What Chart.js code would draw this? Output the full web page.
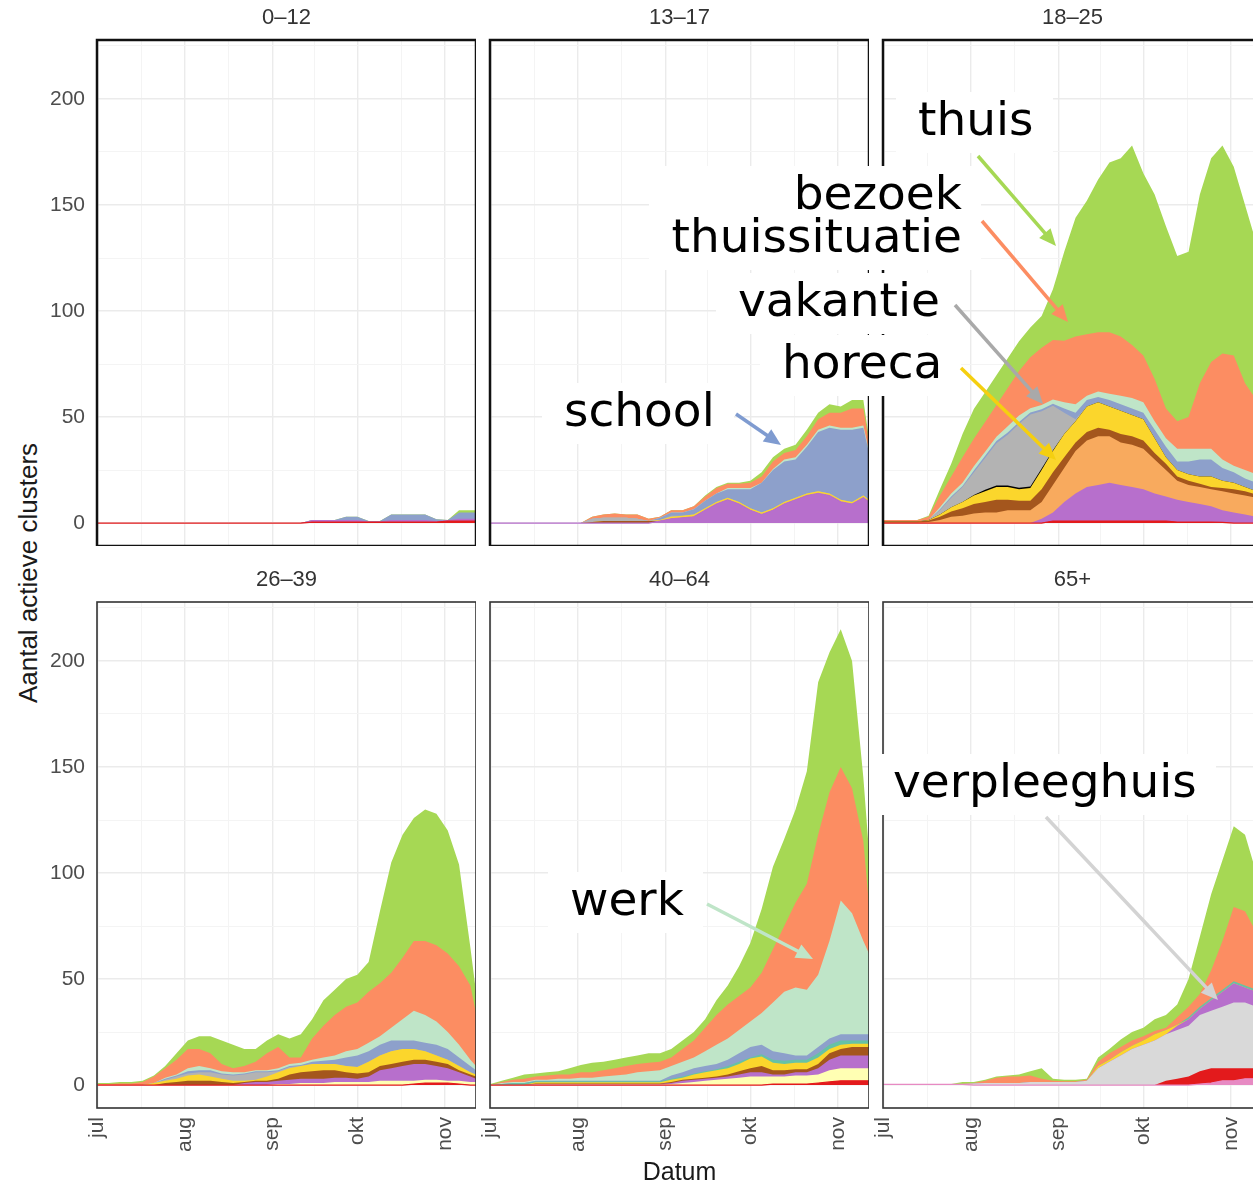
<!DOCTYPE html>
<html>
<head>
<meta charset="utf-8">
<title>Aantal actieve clusters per leeftijdsgroep</title>
<script src="https://cdn.jsdelivr.net/npm/chart.js@4.4.1/dist/chart.umd.min.js"></script>
<style>
  html, body { margin: 0; padding: 0; background: #fff; width: 1253px; height: 1186px; overflow: hidden; }
  .panel { position: absolute; }
  .note {
    position: absolute; background: #fff; color: #000; white-space: nowrap;
    font-family: "DejaVu Sans", Verdana, sans-serif; font-size: 47px; line-height: 43px;
    padding: 5px 19px 13px 22px; z-index: 5;
  }
  #ytitle {
    position: absolute; left: -172px; top: 558px; width: 400px; height: 30px; line-height: 30px;
    text-align: center; transform: rotate(-90deg);
    font-family: "Liberation Sans", Arial, sans-serif; font-size: 26px; color: #1a1a1a;
  }
  #arrows { position: absolute; left: 0; top: 0; z-index: 6; }
</style>
</head>
<body>
<div id="ytitle">Aantal actieve clusters</div>

<div class="note" style="left:896px;top:92px;">thuis</div>
<div class="note" style="right:272px;top:166px;text-align:right;">bezoek<br>thuissituatie</div>
<div class="note" style="left:716px;top:273px;">vakantie</div>
<div class="note" style="left:760px;top:335px;">horeca</div>
<div class="note" style="left:542px;top:383px;">school</div>
<div class="note" style="left:548px;top:872px;">werk</div>
<div class="note" style="left:871px;top:754px;">verpleeghuis</div>

<svg id="arrows" width="1253" height="1186"></svg>

<script>
// days since 1 July, one value per sample
const days = [0,4,8,12,16,20,24,28,32,36,40,44,48,52,56,60,64,68,72,76,80,84,88,92,96,100,104,108,112,116,120,124,128,132,134];

const groups = ['0–12', '13–17', '18–25', '26–39', '40–64', '65+'];

const monthTicks = [0, 31, 62, 92, 123];
const monthLabels = ['jul', 'aug', 'sep', 'okt', 'nov'];
const xGrid = [0, 15.5, 31, 46.5, 62, 77, 92, 107.5, 123];
const yTicks = [0, 25, 50, 75, 100, 125, 150, 175, 200, 225];

// active clusters per setting; one row per age group (same order as groups), null = no clusters
const overig = [null, null, null, null, null,
  [0.3,0.3,0.3,0.3,0.3,0.3,0.3,0.3, 0,0,0,0,0,0,0,0,0,0, 0,0,0,0,0,0,0,0,0,0, 0.5,1,2,2,3,3,3]];

const zorg = [
  [0,0,0,0,0,0,0,0,0,0, 0,0,0,0,0,0,0,0,0, 0.5,0.5,0.5,0.5,0.5,0.5,0.5,0.5,0.5,0.5,0.5,0.5, 1,1,1,1],
  null,
  [0,0,0,0,0,0,0,0,0,0, 0,0,0,0,0, 1,1,1,1,1,1,1,1,1,1,1, 0.5,0.5,0.5,0.5, 0.3, 0,0,0,0],
  [0,0,0,0,0,0,0,0,0,0, 0,0,0,0,0,0,0,0,0,0, 0,0,0,0,0,0,0,0, 0.5,1,1,1,0.5,0,0],
  [0,0,0,0,0,0,0,0,0,0, 0,0,0,0,0,0,0,0,0,0, 0,0,0,0,0, 0.5,0.5,0.5,0.5,1,1.5,2,2,2,2],
  [0,0,0,0,0,0,0,0,0,0, 0,0,0,0,0,0,0,0,0,0, 0,0,0,0,0, 2,3,4,6,7,6,6,5,5,5]];

const verpleeghuis = [null, null, null, null, null,
  [0,0,0,0,0,0,0, 0.2,0.7,1,1,1,1,1.5,1.5,1.5,1.5,1.5,2,8,11,14,17,19,21,22,23,24,26.5,27,29,31,31,29,28]];

const kerk = [null, null, null,
  [0,0,0,0,0,0,0,0,0,0, 0,0,0,0,0,0, 0.5,0.5,1,1,1,1.5,1.5,1.5,1.5,2,2,2,1.5,1.5,1.5,1,1.5,1.5,1.5],
  [0,0,0,0, 0.3,0.3,0.3,0.3,0.3,0.3,0.3,0.3,0.3,0.3,0.3,0.3, 0.5,1,1.5,2,2.5,3,3.5,4,4,3.5,3.5,4,4,4,5.5,6,6,6,6],
  null];

const studie = [
  [0,0,0,0,0,0,0,0,0,0, 0,0,0,0,0,0,0,0,0, 1,1,1,1,1,0.3,0.3,1,1,1,1,0.5,0.3,1,1,1],
  [0,0,0,0,0,0,0,0,0,0, 0,0,0,0,0, 1,2,2.5,3,6,9,11,9,6,4,6,9,11,13,14,13,10,9,12,10],
  [0,0,0,0,0,0,0,0,0,0, 0,0,0,0, 2,4,9,13,16,17,18,17,16,15,13,11.5,10.5,9.5,8.5,7.5,5.7,5,4,3,3],
  [0,0,0,0,0,0,0,0,0,0, 0,0,0, 1,1.5,1.5,1.5,2,2,2,2,2,2,1.5,2.5,5,6,7,8,7.5,6.5,6,4,2.5,1.5],
  [0,0,0,0, 0.2,0.2,0.2,0.2,0.2,0.2,0.2,0.2,0.2,0.2,0.2,0.2, 0.5,1,1,1,1,1,1.5,2,2,1,1,1.5,1.5,3,5,6,6,6,6],
  [0,0,0,0,0,0,0,0,0,0, 0,0,0,0,0,0,0,0,0,0, 0,0,0,0,0,0, 2,3,3,5,7,9,7,7,7]];

const sport = [null, null,
  [0.3,0.3,0.3,0.3,0.5,1.5,3,3.5,4.5,5,5,6,6,6,8,13,16,20,22,23,22,20,20,19,16,12.5,9,8,8,8,9,9,9,9,8],
  null, null, null];

const feest = [null,
  [0,0,0,0,0,0,0,0,0, 0.5,1,1,1,1,1, 0,0,0,0,0,0,0,0,0,0, 0,0,0,0,0,0,0,0,0,0],
  [0.5,0.5,0.5,0.5,0.7,1.5,2.5,3.5,4.5,5,6,5,4.5,4.5,6,6,5,4,4,4,3,4,4,4,3,3,2,2,1.5,1,1.5,2,2,1.5,2],
  [0,0,0,0,0,0, 1,1.5,2,2,2,1.5,1,0.5,0.5,0.5,1,2.5,3,3.5,4,3.5,2.5,2.5,2,2,2,2,2,2,2,2,1,1,1],
  [0,0,0,0, 0.3,0.3,0.3,0.3,0.3,0.3,0.3,0.3,0.3,0.3,0.3,0.3, 0.5,0.5,0.5,0.5,0.5,1,1.5,2,3,2,2,1.5,1.5,2,3,3,4,4,4],
  null];

const horeca = [null,
  [0,0,0,0,0,0,0,0,0,0, 0,0,0,0,0, 0.5, 1,1,1,1,1,1,1,1,1,1, 1,1,1,1,1,1,1,1,1],
  [0,0,0,0,0.3,1,2,3,4,5,6,6,5.5,6,9,10,11,10,12,12,11,11,10,10,7,3,3,3,3.5,5,3.5,3,2,1.5,1.5],
  [0,0,0,0,0, 1,1,1.5,2.5,3,2,1.5,1,0.5,0.5,2,3,3,3,3.5,3,3,3,3,5,5,6,6,5,4,3,2,2,1,1],
  [0,0,0,0, 0.5,0.5,0.5,0.5,0.5,0.5,0.5,0.5,0.5,0.5,0.5,0.5, 1,1,2,2.5,3,3,3.5,4.5,4.5,3.5,3,3,3,3,2,2,1.5,1.5,1.5],
  [0,0,0,0,0,0,0,0,0,0, 0,0,0,0,0,0,0,0,0, 1,1,1.5,1.5,2,3,2,0.5, 0,0,0,0,0,0,0,0]];

const uitvaart = [null, null,
  [0,0,0,0,0,0,0,0, 0.3, 0.7,0.7,0.7,0.7,0.7,0.7, 0.3, 0,0,0,0,0,0,0,0,0,0, 0,0,0,0,0,0,0,0,0],
  null, null, null];

const vakantie = [null,
  [0,0,0,0,0,0,0,0,0, 1.5,1.5,1.5,1.5,1, 0,0,0.5, 0,0,0,0,0,0,0,0,0,0, 0,0,0,0,0,0,0,0],
  [0,0,0,0,0, 2,4.5,7,10.5,15,20,24,30,34,27,21,10,1, 0,0,0,0,0,0,0,0,0,0, 0,0,0,0,0,0,0],
  [0,0,0,0,0,0, 0.5,1,1,1,2,2,2.5,3,3.5,2,0.5,0.5, 0,0,0,0,0,0,0,0,0,0, 0,0,0,0,0,0,0],
  null, null];

const kinderopvang = [null, null, null, null,
  [0,0.5,1,1, 0.5,0.5,0.5,0.5,0.5,0.5,0.5,0.5,0.5,0.5,0.5,0.5, 0.5,0.5,0.5,0.5,0.5,1,1,0.5,1,1.5,1.5,1.5,1.5,2,2,2,1.5,1.5,1.5],
  [0,0,0,0,0,0,0,0,0,0, 0,0,0,0,0,0,0,0,0,0, 0,0,0,0,0,0,0, 1,1,1,1,1,1,1,1]];

const school = [
  [0,0,0,0,0,0,0,0,0,0, 0,0,0,0,0,0,0,0,0, 0,0,0,1.5,1.5,0.2,0.2,2.5,2.5,2.5,2.5,0.8,0.2,3,3,3],
  [0,0,0,0,0,0,0,0,0,0, 0,0,0,0,0, 1,1.5,1.5,2.5,3.5,4,4,6,9,14,18,19,18,22,28,31,33,34,32,22],
  [0,0,0,0,0, 0.5,0.5,0.5,1,1,1,1,1,1,1,1,2,3,3,2.5,3,3,3,3,4,5,4,6,8,8,6,5,4,4,3.5],
  [0,0,0,0,0,0, 0.5,0.5,1,1,1,0.5,0.5,0.5,0.5,0.5,0.5,0.5,0.5,1,1.5,2,4,5.5,5,5,5,4,4,4,5,5,4,3,2],
  [0,0,0,0, 0.2,0.2,0.2,0.2,0.2,0.2,0.2,0.2,0.2,0.2,0.2,0.2, 1.5,2,2.5,2.5,2.5,3,4,5,4.5,4,3.5,2,2,3,3,3,3,3,3],
  null];

const werk = [null,
  [0,0,0,0,0,0,0,0,0,0, 0,0,0,0,0,0,0,0,0,0, 0, 0.5,0.5,0.5,0,0.5,1,1,1,1,1,1,1,1,1],
  [0,0,0,0,0, 1,1.5,1.5,2,2,2,3,3,2,2,2,3,4,2,2.5,3,4,5,5,4,4,6,6,5,5,4,3,4,4,4],
  [0,0,0,0,0,0, 0.5,0.5,1.5,2,1,1,1,0.5,0.5,0.5,1,1,1,1,1.5,2,3,3,4,4,6,10,14,13,11,8,6,3,2],
  [0,0.5,0.5,0.5,0.5,0.5,1,1,1.5,1.5,2,2.5,3,4,4.5,5,4.5,5,5,7,9,10,11,12,15,23,29,32,31,34,46,63,57,44,38],
  null];

const bezoek = [null,
  [0,0,0,0,0,0,0,0,0, 1,1.5,2,1.5,2,1, 0.5,1,1,1.5,2,2.5,2,2,2.5,3,3.5,3,3.5,4,5,6,7,9,8,4],
  [0.7,0.7,0.7,0.7,1.5,5.5,8,12,13,14,15,18,21,24,27,28,29,32,29,28,29,28,25,22,20,14,13,15,31,41,50,52,41,35,33],
  [0.5,0.5,0.7,0.7,1.5,3,4.5,7,9,8,7,3.5,2,3,4,8,10,3,2.5,10,15,19,21,22,24,25,26,29,33,35,36,37,37,35,25],
  [0,0.5,1,1.5,1.5,2,2,2,2.5,2.5,3,3.5,4,4,4,4,4,6,8,11,14,16,16,16,19,25,31,40,50,66,70,63,59,47,23],
  [0,0,0,0,0,0,0,0, 0.3,1,2.5,3,3,3,1.5,0.5,0.3,0.3,0.5,2,3,2.5,2.5,2,1.5,1,3.5,5,6,13,23,35,35,27,24]];

const thuis = [
  [0,0,0,0,0,0,0,0,0,0, 0,0,0,0,0,0,0,0,0,0, 0,0,0,0,0,0,0,0,0,0, 0,0, 1,1,1],
  [0,0,0,0,0,0,0,0,0,0, 0,0,0,0,0,0,0,0,0, 0.5,0.5,0.5,0.5,1,2,2,2,2.5,3,3,4,3,4,4,2],
  [0,0,0,0,0.5,3,6,11,14,14,14,14,14,14,15,24,42,56,63,72,80,84,94,86,87,86,78,78,89,96,98,89,84,74,70],
  [0.5,0.5,0.8,0.8,0.5,0.5,1,3,4,6,8,11,11,8,6,6,6,9,11,9,12,12,13,13,14,34,52,58,58,62,62,58,48,18,10],
  [0.5,0.5,1,2,1.5,1.5,1.5,3,3.5,4.5,4,4,4,4,4.5,4,4,4,4,4,7,9,14,21,30,39,41,44,53,72,66,65,60,30,25],
  [0.2,0.2,0.2,0.2,0.2,0.2,0.2,1,0.5,0.5,0.5,0.5,1,2,5,1,0.7,0.7,0.5,2,2,3.5,4,4,5.5,6,6,13,27,36,38,38,36,28,27]];

// stack order, bottom to top
const layers = [
  ['overig', overig], ['zorg', zorg], ['verpleeghuis', verpleeghuis], ['kerk', kerk],
  ['studie', studie], ['sport', sport], ['feest', feest], ['horeca', horeca],
  ['uitvaart', uitvaart], ['vakantie', vakantie], ['kinderopvang', kinderopvang],
  ['school', school], ['werk', werk], ['bezoek thuissituatie', bezoek], ['thuis', thuis]
];

const colors = {
  'overig': '#e78ac3', 'zorg': '#e31a1c', 'verpleeghuis': '#d9d9d9', 'kerk': '#ffffb3',
  'studie': '#b76fcc', 'sport': '#f8aa5e', 'feest': '#a4561d', 'horeca': '#fbd62c',
  'uitvaart': '#000000', 'vakantie': '#b3b3b3', 'kinderopvang': '#66c2a5',
  'school': '#8da0cb', 'werk': '#bfe5c8', 'bezoek thuissituatie': '#fc8d62', 'thuis': '#a6d854'
};

Chart.defaults.font.family = '"Liberation Sans", Arial, sans-serif';

const panelBorder = {
  id: 'panelBorder',
  afterDraw(chart, args, opts) {
    const { ctx, chartArea: a } = chart;
    ctx.save();
    ctx.strokeStyle = opts.color;
    ctx.lineWidth = opts.width;
    ctx.strokeRect(a.left, a.top, a.right - a.left, a.bottom - a.top);
    ctx.restore();
  }
};

// keep the plot area exactly where the panel sits
function fixSize(size, key) {
  return s => {
    s[key] = size;
    s.paddingLeft = 0; s.paddingRight = 0; s.paddingTop = 0; s.paddingBottom = 0;
  };
}

const panelW = 379, panelH = 506;
const lefts = [97, 490, 883];
const tops = [40, 602];

groups.forEach((name, p) => {
  const col = p % 3, row = Math.floor(p / 3);
  const yW = col === 0 ? 70 : 13;   // a little room on the left for the rotated "jul"
  const xH = row === 1 ? 78 : 0;

  const wrap = document.createElement('div');
  wrap.className = 'panel';
  wrap.style.left = (lefts[col] - yW) + 'px';
  wrap.style.top = (tops[row] - 40) + 'px';
  const canvas = document.createElement('canvas');
  canvas.width = yW + panelW;
  canvas.height = 40 + panelH + xH;
  wrap.appendChild(canvas);
  document.body.insertBefore(wrap, document.getElementById('arrows'));

  // every layer is filled down to zero; the library paints upper layers first,
  // so each lower layer covers the part of the stack beneath it
  const datasets = [];
  layers.forEach(([label, rows]) => {
    const vals = rows[p];
    if (!vals) return;
    const first = datasets.length === 0;
    datasets.push({
      label: label,
      data: vals,
      backgroundColor: colors[label],
      borderColor: colors[label],
      borderWidth: first ? 1.2 : 0,
      pointRadius: 0,
      tension: 0,
      fill: 'origin'
    });
  });

  new Chart(canvas, {
    type: 'line',
    data: { labels: days, datasets: datasets },
    options: {
      responsive: false,
      animation: false,
      devicePixelRatio: 1,
      events: [],
      layout: { padding: 0 },
      plugins: {
        legend: { display: false },
        tooltip: { enabled: false },
        title: {
          display: true, text: name, color: '#333333', fullSize: false,
          font: { size: 22, lineHeight: 1, weight: 'normal' },
          padding: { top: 7, bottom: 11 }
        },
        panelBorder: { color: row === 0 ? '#111111' : '#333333', width: row === 0 ? 2.5 : 1.6 }
      },
      scales: {
        x: {
          type: 'linear', min: -0.15, max: 134,
          afterBuildTicks: s => { s.ticks = xGrid.map(v => ({ value: v })); },
          afterFit: fixSize(xH, 'height'),
          border: { display: false },
          grid: {
            drawTicks: false,
            color: c => monthTicks.includes(c.tick.value) ? '#ebebeb' : '#f4f4f4',
            lineWidth: c => monthTicks.includes(c.tick.value) ? 1.4 : 1
          },
          ticks: {
            display: row === 1, autoSkip: false, minRotation: 90, maxRotation: 90, padding: 9,
            color: '#4d4d4d', font: { size: 21 },
            callback: v => { const i = monthTicks.indexOf(v); return i >= 0 ? monthLabels[i] : ''; }
          },
          title: {
            display: p === 4, text: 'Datum', color: '#1a1a1a',
            font: { size: 25, lineHeight: 1 }, padding: { top: 0, bottom: 0 }
          }
        },
        y: {
          type: 'linear', stacked: true, min: -10.8, max: 227.8,
          afterBuildTicks: s => { s.ticks = yTicks.map(v => ({ value: v })); },
          afterFit: fixSize(yW, 'width'),
          border: { display: false },
          grid: {
            drawTicks: false,
            color: c => c.tick.value % 50 === 0 ? '#ebebeb' : '#f4f4f4',
            lineWidth: c => c.tick.value % 50 === 0 ? 1.4 : 1
          },
          ticks: {
            display: col === 0, padding: 12, color: '#4d4d4d', font: { size: 21 },
            callback: v => v % 50 === 0 ? String(v) : ''
          }
        }
      }
    },
    plugins: [panelBorder]
  });
});

// annotation arrows: [x1, y1, x2 (tip), y2 (tip), colour]
const arrowList = [
  [978, 156, 1056, 246, '#a6d854'],
  [982, 221, 1068, 322, '#fc8d62'],
  [955, 305, 1043, 404, '#a9a9a9'],
  [961, 368, 1056, 460, '#f5cf10'],
  [736, 414, 781, 445, '#7f9bd0'],
  [707, 904, 813, 959, '#bfe5c8'],
  [1046, 817, 1218, 1000, '#d3d3d3']
];
const svg = document.getElementById('arrows');
const NS = 'http://www.w3.org/2000/svg';
arrowList.forEach(([x1, y1, x2, y2, c]) => {
  const dx = x2 - x1, dy = y2 - y1, len = Math.hypot(dx, dy);
  const ux = dx / len, uy = dy / len, hl = 17, hw = 7.5;
  const line = document.createElementNS(NS, 'line');
  line.setAttribute('x1', x1); line.setAttribute('y1', y1);
  line.setAttribute('x2', x2 - ux * hl * 0.8); line.setAttribute('y2', y2 - uy * hl * 0.8);
  line.setAttribute('stroke', c); line.setAttribute('stroke-width', 3.5);
  svg.appendChild(line);
  const bx = x2 - ux * hl, by = y2 - uy * hl;
  const head = document.createElementNS(NS, 'polygon');
  head.setAttribute('points', `${x2},${y2} ${bx - uy * hw},${by + ux * hw} ${bx + uy * hw},${by - ux * hw}`);
  head.setAttribute('fill', c);
  svg.appendChild(head);
});
</script>
</body>
</html>
